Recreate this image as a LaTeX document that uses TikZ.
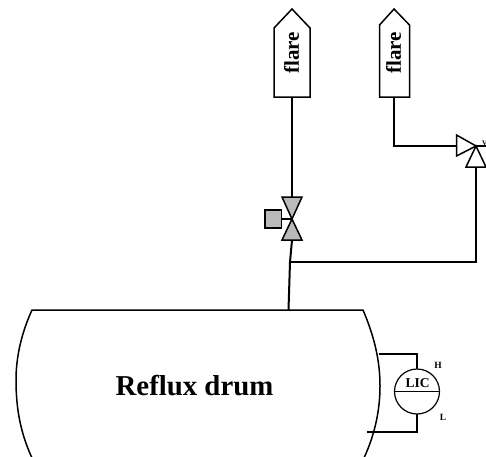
\documentclass[tikz,border=0pt]{standalone}
\usepackage{fontspec}
\setmainfont{Liberation Serif}
\tikzset{
  x=1pt,y=-1pt,
  pipe/.style={draw=black,line width=2pt,line join=miter},
  thin pipe/.style={draw=black,line width=1.2pt},
  shape line/.style={draw=black,line width=1.5pt,fill=white,line join=miter},
  grey/.style={draw=black,line width=1.5pt,fill=black!27,line join=miter},
  lbl/.style={font=\bfseries,inner sep=0pt,text=black}
}
\begin{document}
\begin{tikzpicture}
\path[use as bounding box] (0,0) rectangle (486,456);
\clip (0,0) rectangle (486,456);
% drum
\path[shape line] (32,310) -- (363,310)
  .. controls (375,338) and (380,362) .. (380,386)
  .. controls (380,410) and (375,434) .. (364,458)
  -- (32,458)
  .. controls (21,434) and (16,410) .. (16,380)
  .. controls (16,358) and (21,334) .. (32,310) -- cycle;
\node[lbl,font=\bfseries\fontsize{28.8}{31}\selectfont] (drumlbl) at (194.5,386) {Reflux drum};
% pipes
\coordinate (vbot) at (292,240);
\coordinate (tee) at (290,262);
\coordinate (drumtop) at (288.5,310);
\coordinate (rvin) at (476,167);
\coordinate (rvc) at (476,146);
\coordinate (rvout) at (486,146);
\draw[pipe] (292,97) -- (292,197);
\draw[pipe] (vbot) -- (tee) -- (drumtop);
\draw[pipe] (tee) -- (476,262) -- (rvin);
\draw[pipe] (394,97) -- (394,146) -- (456,146);
% flares
\path[shape line] (274,97) -- (274,28) -- (292,9) -- (310,28) -- (310,97) -- cycle;
\path[shape line] (379.5,97) -- (379.5,25) -- (394,9) -- (409.5,25) -- (409.5,97) -- cycle;
\node[lbl,rotate=90,font=\bfseries\fontsize{21}{23}\selectfont] (fl1) at (291.5,53) {flare};
\node[lbl,rotate=90,font=\bfseries\fontsize{21}{23}\selectfont] (fl2) at (393.5,53) {flare};
% control valve
\draw[thin pipe] (272,219) -- (292,219);
\path[grey] (265,210) rectangle (281.5,228);
\path[grey] (282,197) -- (302,197) -- (292,219) -- cycle;
\path[grey] (282,240) -- (302,240) -- (292,219) -- cycle;
% relief valve
\draw[thin pipe] (rvc) -- (rvout);
\path[shape line] (456.5,135) -- (476,146) -- (456.5,156) -- cycle;
\path[shape line] (466,167) -- (476,146) -- (486,167) -- cycle;
\node[lbl,font=\bfseries\fontsize{7}{8}\selectfont,anchor=west] (vlbl) at (482,143) {V};
% LIC
\draw[thin pipe] (417,369) -- (417,354) -- (379,354);
\draw[thin pipe] (417,414) -- (417,432) -- (367,432);
\node[circle,draw=black,line width=1.2pt,fill=white,minimum size=45pt,inner sep=0pt] (lic) at (417,391.5) {};
\draw[line width=1.2pt] (lic.west) -- (lic.east);
\node[lbl,font=\bfseries\fontsize{13.5}{15}\selectfont] (lictext) at (417.5,383.5) {LIC};
\node[lbl,font=\bfseries\fontsize{9.5}{10}\selectfont] (h) at (438,365) {H};
\node[lbl,font=\bfseries\fontsize{9.5}{10}\selectfont] (l) at (443,417) {L};
\end{tikzpicture}
\end{document}
